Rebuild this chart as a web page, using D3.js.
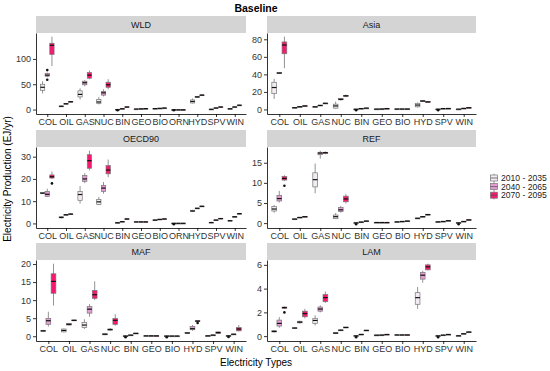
<!DOCTYPE html>
<meta charset="utf-8">
<style>
body { margin: 0; background: #fff; }
text { font-family: "Liberation Sans", Arial, sans-serif; }
.axis text { fill: #333; font-size: 9px; }
.axis path, .axis line { stroke: #000; stroke-width: 0.8px; }
</style>
<body></body>
<script src="https://d3js.org/d3.v7.min.js"></script>
<script>

var periods = ["2010 - 2035", "2040 - 2065", "2070 - 2095"];
var colors = ["#f3ebf3", "#e59bd3", "#f7186f"];

var cats11 = ["COL","OIL","GAS","NUC","BIN","GEO","BIO","ORN","HYD","SPV","WIN"];
var cats10 = ["COL","OIL","GAS","NUC","BIN","GEO","BIO","HYD","SPV","WIN"];

// each box: [lower whisker, q1, median, q3, upper whisker, outliers]
var wld = [
  [[32,38,44,50,56], [64,66,68,71,73,[78,59]], [86,109,127,131,144]],
  [[5,6,6.5,7,8], [10,11,11.5,12,13], [14.5,15,15.5,16,16.5]],
  [[20,25,30,37,42], [46,49,53,56,58], [60,62,68,73,77]],
  [[10,12,15,20,25], [26,28.5,33,36,40], [40,44,49,54,60]],
  [[-0.5,-0.3,0,0.3,0.8,[-1.5]], [1,1.3,1.6,2,2.3], [4,4.5,5,5.5,6]],
  [[0.5,0.8,1,1.2,1.4], [1,1.2,1.4,1.6,1.8], [1.5,1.7,1.9,2.1,2.3]],
  [[1.5,1.7,1.9,2.1,2.3], [2,2.2,2.4,2.6,2.8], [2.5,2.8,3,3.2,3.4]],
  [[-0.8,-0.7,-0.6,-0.4,-0.2,[-1.5]], [-0.8,-0.6,-0.5,-0.4,-0.2], [-0.8,-0.6,-0.5,-0.4,-0.2]],
  [[12,13,16,19,22], [23,24,25,26,27], [27,28,28.5,29,30]],
  [[0,0.3,0.5,0.8,1], [2,2.5,3,3.5,4], [4,4.5,5,5.5,6]],
  [[0.8,1.2,1.5,1.8,2.2], [4,4.5,5,5.5,6], [7,8,8.5,9,10]]
];

var asia = [
  [[12,18,25,31,35], [40.5,41,41.5,42,42.5], [47,63.5,73.5,77,83]],
  [[1.5,1.8,2,2.2,2.5], [2.7,2.9,3.1,3.3,3.5], [3.6,3.8,4,4.2,4.4]],
  [[2.5,2.8,3,3.2,3.5], [4.2,4.4,4.6,4.8,5], [6.5,6.8,7,7.2,7.5]],
  [[1,1.5,4,6,9], [10,11,11.5,12.5,13], [14,15,15.5,16,17]],
  [[-0.3,0,0.2,0.4,0.6,[-1]], [0.8,0.9,1,1.1,1.2], [1.3,1.4,1.5,1.6,1.7]],
  [[0.2,0.3,0.4,0.5,0.6], [0.3,0.4,0.5,0.6,0.7], [0.8,0.9,1,1.1,1.2]],
  [[0.3,0.4,0.5,0.6,0.7], [0.3,0.4,0.5,0.6,0.7], [0.3,0.4,0.5,0.6,0.7]],
  [[2,3,5,7,8], [9,9.3,9.6,10,10.3], [8,8.3,8.6,9,9.3]],
  [[-0.2,0,0.2,0.4,0.6,[-0.8]], [0.8,0.9,1,1.1,1.2], [0.9,1,1.1,1.2,1.3]],
  [[0.1,0.2,0.3,0.4,0.5], [1,1.1,1.2,1.3,1.4], [1.8,1.9,2,2.1,2.2]]
];

var oecd90 = [
  [[13.2,13.4,13.6,13.9,14.1], [11.9,12.2,13.1,14.4,15.6], [20,20.4,21,21.8,23.3,[18]]],
  [[2.2,2.5,2.7,3,3.2], [3.7,3.8,3.9,4,4.1], [4.1,4.15,4.2,4.3,4.35]],
  [[8.9,10.4,13,14.4,16.8], [18.1,18.9,20,21.5,22.6], [23.8,24.8,28.2,30.9,32.7]],
  [[8.2,8.5,9.7,10.8,11.9], [13.4,14.4,15.9,17.1,18.6], [20.8,22.3,24,26,28.7]],
  [[0.1,0.2,0.3,0.4,0.5], [0.6,0.7,0.8,0.9,1], [1.8,1.9,2,2.1,2.2]],
  [[0.6,0.65,0.7,0.75,0.8], [0.6,0.65,0.7,0.75,0.8], [0.6,0.65,0.7,0.75,0.8]],
  [[1.3,1.4,1.5,1.6,1.7], [1.6,1.7,1.8,1.9,2], [1.8,1.9,2,2.1,2.2]],
  [[-0.1,0,0.05,0.1,0.2,[-0.4]], [-0.1,0,0.05,0.1,0.2], [-0.1,0,0.05,0.1,0.2]],
  [[5.1,5.4,5.6,5.9,6.1], [6.6,6.7,6.8,6.9,7], [7.5,7.6,7.7,7.8,7.9]],
  [[0.2,0.3,0.4,0.5,0.6], [1.3,1.4,1.5,1.6,1.7], [2,2.1,2.2,2.3,2.4]],
  [[0.9,1.1,1.2,1.4,1.5], [2.7,2.9,3,3.1,3.3], [4.1,4.3,4.4,4.5,4.7]]
];

var ref = [
  [[2.6,3,3.5,4.1,4.5], [5.1,5.5,6.1,6.9,8], [10.5,10.7,11.1,11.6,11.9,[9.3]]],
  [[0.9,0.95,1,1.05,1.1], [1.3,1.35,1.4,1.45,1.5], [1.5,1.55,1.6,1.65,1.7]],
  [[7.4,9,10.8,12.5,14.8], [16,17,17.4,17.6,18], [17.1,17.3,17.5,17.6,17.8]],
  [[1,1.1,1.6,2,2.5], [2.6,2.9,3.3,3.9,4.3], [4.9,5.3,6,6.7,7.2]],
  [[-0.1,0,0.05,0.1,0.2,[-0.3]], [0.15,0.2,0.25,0.3,0.35], [0.4,0.45,0.5,0.55,0.6]],
  [[0.1,0.12,0.15,0.18,0.2], [0.1,0.12,0.15,0.18,0.2], [0.1,0.12,0.15,0.18,0.2]],
  [[0.2,0.25,0.3,0.35,0.4], [0.3,0.35,0.4,0.45,0.5], [0.4,0.45,0.5,0.55,0.6]],
  [[1.1,1.15,1.2,1.25,1.3], [1.5,1.55,1.6,1.65,1.7], [1.9,2,2.1,2.2,2.3]],
  [[0.2,0.25,0.3,0.35,0.4], [0.3,0.35,0.4,0.45,0.5], [0.5,0.55,0.6,0.65,0.7]],
  [[-0.1,0,0.05,0.1,0.2,[-0.3]], [0.3,0.35,0.4,0.45,0.5], [0.7,0.75,0.8,0.85,0.9]]
];

var maf = [
  [[1.2,1.35,1.5,1.6,1.7], [2.7,3.3,4.3,4.9,6.8], [8.5,11.9,15.2,17.3,20.1]],
  [[1.1,1.2,1.6,2,2.1], [3,3.1,3.3,3.5,3.7], [4.2,4.3,4.4,4.5,4.6]],
  [[2,2.4,3.1,3.8,4.7], [5.4,6.4,7.5,8.2,8.9], [10,10.5,11.5,12.7,15.2]],
  [[0.3,0.4,0.55,0.7,0.8], [1.5,1.7,1.85,2,2.3], [2.9,3.3,4.4,4.9,6.1]],
  [[-0.1,0,0.05,0.1,0.2,[-0.3]], [0.2,0.25,0.3,0.35,0.4], [0.7,0.75,0.8,0.85,0.9]],
  [[0,0.05,0.1,0.15,0.2], [0,0.05,0.1,0.15,0.2], [0,0.05,0.1,0.15,0.2]],
  [[-0.1,0,0.05,0.1,0.2,[-0.3]], [0,0.02,0.05,0.08,0.1], [0,0.02,0.05,0.08,0.1]],
  [[0.7,0.8,0.9,1,1.1], [1.5,1.8,2.1,2.7,3.1], [3.9,4.1,4.2,4.3,4.4,[3.7]]],
  [[0,0.05,0.1,0.15,0.2], [0.2,0.25,0.3,0.35,0.4], [0.6,0.8,1,1.2,1.3]],
  [[-0.1,0,0.1,0.15,0.2,[-0.2]], [0.4,0.5,0.55,0.6,0.7], [1.3,1.5,2,2.4,3.1]]
];

var lam = [
  [[0.3,0.35,0.4,0.45,0.5], [0.7,0.85,1.07,1.35,1.6], [2.3,2.35,2.4,2.45,2.5,[2.0]]],
  [[0.6,0.65,0.68,0.7,0.75], [1.05,1.12,1.18,1.25,1.3], [1.5,1.63,1.9,2.1,2.3]],
  [[0.9,1.07,1.32,1.5,1.75], [2,2.1,2.28,2.45,2.6], [2.8,2.9,3.24,3.5,3.75]],
  [[0.18,0.22,0.25,0.3,0.33], [0.45,0.48,0.5,0.52,0.55], [0.68,0.7,0.73,0.76,0.78]],
  [[-0.05,0,0.02,0.04,0.06,[-0.1]], [0.1,0.12,0.14,0.16,0.18], [0.44,0.46,0.48,0.5,0.52]],
  [[0.05,0.06,0.08,0.09,0.1], [0.06,0.07,0.09,0.1,0.11], [0.12,0.13,0.14,0.15,0.16]],
  [[0.08,0.09,0.1,0.11,0.12], [0.08,0.09,0.1,0.11,0.12], [0.08,0.09,0.1,0.11,0.12]],
  [[2.3,2.68,3.24,3.66,4.14], [4.5,4.8,5.13,5.35,5.5], [5.55,5.58,5.83,6,6.1]],
  [[-0.05,0,0.02,0.04,0.06,[-0.1]], [0.05,0.06,0.08,0.1,0.12], [0.12,0.13,0.14,0.15,0.16]],
  [[0,0.02,0.03,0.04,0.05], [0.17,0.19,0.2,0.22,0.24], [0.3,0.32,0.34,0.36,0.38]]
];

var panels = [
  {name: "WLD",    cats: cats11, stats: wld,    ticks: [0,50,100],      col: 0, row: 0},
  {name: "Asia",   cats: cats10, stats: asia,   ticks: [0,20,40,60,80], col: 1, row: 0},
  {name: "OECD90", cats: cats11, stats: oecd90, ticks: [0,10,20,30],    col: 0, row: 1},
  {name: "REF",    cats: cats10, stats: ref,    ticks: [0,5,10,15],     col: 1, row: 1},
  {name: "MAF",    cats: cats10, stats: maf,    ticks: [0,5,10,15,20],  col: 0, row: 2},
  {name: "LAM",    cats: cats10, stats: lam,    ticks: [0,2,4,6],       col: 1, row: 2}
];

var width = 550, height = 371;
var colX = [[36, 246], [267, 476]],
    rowTop = [16, 130, 243],
    stripH = 17, plotH = 81;

var svg = d3.select("body").append("svg")
    .attr("width", width)
    .attr("height", height);

svg.append("text")
    .attr("x", 256).attr("y", 12)
    .attr("text-anchor", "middle")
    .style("font-size", "10.5px").style("font-weight", "bold")
    .text("Baseline");

panels.forEach(function(p) {
  var x0 = colX[p.col][0], x1 = colX[p.col][1];
  var top = rowTop[p.row] + stripH, bottom = top + plotH;

  // strip
  svg.append("rect")
      .attr("x", x0).attr("y", rowTop[p.row])
      .attr("width", x1 - x0).attr("height", stripH)
      .attr("fill", "#d4d4d4");
  svg.append("text")
      .attr("x", (x0 + x1) / 2).attr("y", rowTop[p.row] + 12)
      .attr("text-anchor", "middle")
      .style("font-size", "9px").attr("fill", "#1a1a1a")
      .text(p.name);

  var all = [];
  p.stats.forEach(function(c) {
    c.forEach(function(b) {
      all.push(b[0], b[4]);
      if (b[5]) all = all.concat(b[5]);
    });
  });
  var ext = d3.extent(all), pad = (ext[1] - ext[0]) * 0.05;

  var y = d3.scaleLinear()
      .domain([ext[0] - pad, ext[1] + pad])
      .range([bottom, top]);
  var x = d3.scalePoint()
      .domain(p.cats)
      .range([x0, x1])
      .padding(0.6);
  var step = x.step(), bw = step * 0.23;

  var g = svg.append("g");

  p.stats.forEach(function(c, i) {
    c.forEach(function(b, k) {
      var cx = x(p.cats[i]) + (k - 1) * step * 0.25;
      g.append("line")
          .attr("x1", cx).attr("x2", cx)
          .attr("y1", y(b[0])).attr("y2", y(b[4]))
          .attr("stroke", "#777").attr("stroke-width", 0.8);
      g.append("rect")
          .attr("x", cx - bw / 2).attr("y", y(b[3]))
          .attr("width", bw).attr("height", Math.max(0.8, y(b[1]) - y(b[3])))
          .attr("fill", colors[k])
          .attr("stroke", "#777").attr("stroke-width", 0.7);
      g.append("line")
          .attr("x1", cx - bw / 2).attr("x2", cx + bw / 2)
          .attr("y1", y(b[2])).attr("y2", y(b[2]))
          .attr("stroke", "#111").attr("stroke-width", 1.2);
      (b[5] || []).forEach(function(o) {
        g.append("circle")
            .attr("cx", cx).attr("cy", y(o))
            .attr("r", 1.3).attr("fill", "#111");
      });
    });
  });

  svg.append("g")
      .attr("class", "axis")
      .attr("transform", "translate(" + x0 + ",0)")
      .call(d3.axisLeft(y).tickValues(p.ticks).tickFormat(d3.format("d"))
        .tickSize(3).tickSizeOuter(0).tickPadding(2));

  svg.append("g")
      .attr("class", "axis")
      .attr("transform", "translate(0," + bottom + ")")
      .call(d3.axisBottom(x).tickSize(3).tickSizeOuter(0).tickPadding(2));
});

svg.append("text")
    .attr("x", 256).attr("y", 366)
    .attr("text-anchor", "middle")
    .style("font-size", "10px").attr("fill", "#000")
    .text("Electricity Types");

svg.append("text")
    .attr("transform", "translate(11,179) rotate(-90)")
    .attr("text-anchor", "middle")
    .style("font-size", "10px").attr("fill", "#000")
    .text("Electricity Production (EJ/yr)");

// legend
var legend = svg.append("g");
periods.forEach(function(d, k) {
  var ly = 178 + k * 8.6;
  legend.append("line")
      .attr("x1", 494).attr("x2", 494)
      .attr("y1", ly - 4.3).attr("y2", ly + 4.3)
      .attr("stroke", "#777").attr("stroke-width", 0.8);
  legend.append("rect")
      .attr("x", 490.5).attr("y", ly - 3)
      .attr("width", 7).attr("height", 6)
      .attr("fill", colors[k]).attr("stroke", "#777").attr("stroke-width", 0.7);
  legend.append("line")
      .attr("x1", 490.5).attr("x2", 497.5)
      .attr("y1", ly).attr("y2", ly)
      .attr("stroke", "#555").attr("stroke-width", 0.8);
  legend.append("text")
      .attr("x", 501).attr("y", ly + 3)
      .style("font-size", "8.6px").attr("fill", "#222")
      .text(d);
});

</script>
